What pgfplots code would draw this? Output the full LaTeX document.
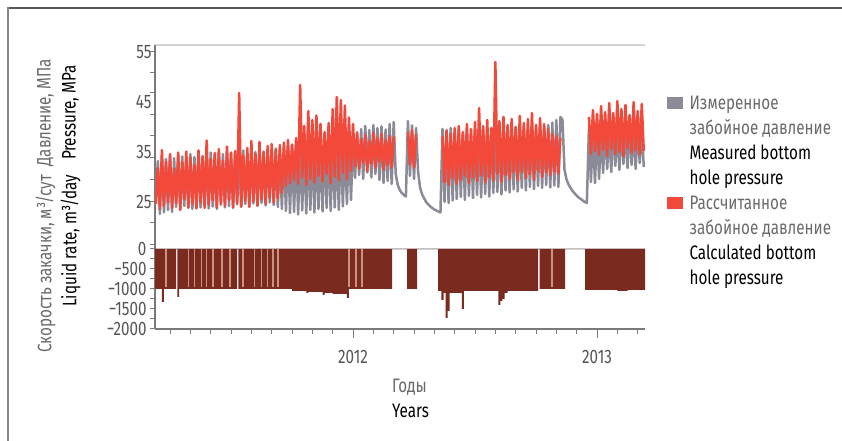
\documentclass[border=0pt]{standalone}
\usepackage{fontspec}
\setmainfont{Fira Sans}[FakeStretch=0.78]
\usepackage{pgfplots}
\usepackage{pgfplotstable}
\pgfplotsset{compat=1.18}
\definecolor{cgray}{HTML}{8B8B98}
\definecolor{cred}{HTML}{F2493B}
\definecolor{cbar}{HTML}{7B2A1F}
\definecolor{cbarl}{HTML}{C99380}
\definecolor{rus}{HTML}{6A6A6A}
\definecolor{tickgray}{HTML}{555555}
\definecolor{axisgray}{HTML}{7A7A7A}
\definecolor{linetop}{HTML}{D3D3D3}
\definecolor{frametop}{HTML}{5A5A55}
\definecolor{frameleft}{HTML}{8A8782}
\newcommand{\fs}{\fontsize{19.5bp}{25bp}\selectfont}

\pgfplotstableread{
m g r
2.3 25.0 24.6
2.4 33.2 31.8
2.5 22.6 23.6
2.6 34.0 35.4
2.7 22.9 24.2
2.8 33.6 33.0
2.9 23.4 25.0
3.0 34.2 34.6
3.1 23.0 23.8
3.2 33.8 31.6
3.3 24.0 24.8
3.4 34.4 34.9
3.5 23.5 23.4
3.6 34.1 33.0
3.7 24.2 25.6
3.8 33.6 35.1
3.9 23.8 23.9
4.0 34.6 34.0
4.1 23.6 24.6
4.2 34.0 32.4
4.3 24.4 23.7
4.4 34.8 35.3
4.5 23.9 24.9
4.6 34.2 34.1
4.7 24.3 23.8
4.8 34.6 37.3
4.9 23.7 24.4
5.0 34.9 33.6
5.1 24.1 25.3
5.2 34.4 34.8
5.3 23.6 23.9
5.4 35.0 35.6
5.5 24.4 24.7
5.6 34.6 33.2
5.7 23.9 24.2
5.8 35.2 36.1
5.9 24.2 25.4
6.0 34.7 34.9
6.1 23.8 23.9
6.2 35.1 35.2
6.3 24.5 24.8
6.4 34.9 46.8
6.5 24.0 24.1
6.6 35.3 34.3
6.7 24.6 25.2
6.8 34.8 35.8
6.9 24.1 24.0
7.0 35.4 37.2
7.1 24.7 25.1
7.2 35.0 34.6
7.3 24.2 24.3
7.4 35.6 37.0
7.5 24.8 25.5
7.6 35.1 35.0
7.7 24.3 24.6
7.8 35.5 36.2
7.9 24.9 25.8
8.0 35.2 36.6
8.1 24.4 24.9
8.2 35.7 35.4
8.3 24.0 25.7
8.4 35.4 36.4
8.5 23.6 26.8
8.6 36.0 36.9
8.7 23.2 28.2
8.8 36.2 37.4
8.9 22.8 28.8
9.0 36.4 36.5
9.1 23.0 29.4
9.2 36.1 37.8
9.3 22.5 28.6
9.4 36.6 48.4
9.5 23.3 29.9
9.6 36.3 40.2
9.7 22.7 28.4
9.8 36.8 43.2
9.9 23.4 29.6
10.0 36.5 41.4
10.1 22.9 28.9
10.2 37.0 42.3
10.3 23.6 30.2
10.4 36.6 40.6
10.5 23.1 29.1
10.6 37.1 39.0
10.7 23.8 30.6
10.8 36.7 40.8
10.9 23.2 28.7
11.0 37.2 43.6
11.1 23.9 30.1
11.2 36.9 46.0
11.3 23.4 29.3
11.4 37.4 45.4
11.5 24.1 30.8
11.6 37.0 44.3
11.7 24.6 29.6
11.8 37.5 41.9
11.9 25.4 31.2
12.0 38.0 40.6
12.1 29.8 32.2
12.2 39.0 38.8
12.3 30.4 31.6
12.4 39.6 37.6
12.5 29.6 32.8
12.6 40.2 38.4
12.7 30.9 31.2
12.8 39.4 37.2
12.9 29.9 32.6
13.0 40.4 38.9
13.1 30.6 31.8
13.2 39.8 37.8
13.3 29.4 33.0
13.4 40.1 38.6
13.5 28.8 31.5
13.6 39.5 37.4
13.7 29.2 32.4
13.8 40.6 38.2
13.9 28.6 31.8
14.0 41.0 38.0
14.1 30.6 nan
14.2 28.4 nan
14.3 27.4 nan
14.4 26.8 nan
14.5 26.4 nan
14.6 26.1 nan
14.7 41.2 39.0
14.8 30.2 32.4
14.9 40.3 39.4
15.0 29.6 31.8
15.1 39.8 38.6
15.2 31.0 nan
15.3 27.8 nan
15.4 26.5 nan
15.5 25.7 nan
15.6 25.0 nan
15.7 24.5 nan
15.8 24.1 nan
15.9 23.8 nan
16.0 23.5 nan
16.1 23.3 nan
16.2 23.1 nan
16.3 22.9 nan
16.4 39.6 38.2
16.5 25.0 29.0
16.6 39.2 39.4
16.7 24.8 28.4
16.8 39.8 38.6
16.9 25.3 29.8
17.0 39.0 39.8
17.1 25.6 28.6
17.2 39.5 40.2
17.3 26.0 29.4
17.4 38.8 39.0
17.5 25.4 30.2
17.6 39.3 40.6
17.7 26.2 28.8
17.8 38.9 39.6
17.9 25.8 29.9
18.0 39.4 41.0
18.1 26.4 29.2
18.2 39.0 43.8
18.3 25.9 30.4
18.4 39.6 40.2
18.5 26.6 28.9
18.6 39.1 41.4
18.7 26.1 30.0
18.8 39.7 39.8
18.9 26.8 29.3
19.0 39.2 53.0
19.1 27.0 30.6
19.2 39.8 41.2
19.3 26.5 29.0
19.4 39.3 42.0
19.5 27.3 30.4
19.6 39.9 40.4
19.7 26.9 29.6
19.8 39.4 41.6
19.9 27.5 30.9
20.0 40.0 40.0
20.1 27.1 29.4
20.2 39.5 42.2
20.3 27.8 31.0
20.4 40.1 40.8
20.5 27.3 29.8
20.6 39.6 41.6
20.7 28.0 30.5
20.8 40.2 42.8
20.9 27.6 29.5
21.0 39.7 40.4
21.1 28.2 31.2
21.2 40.3 41.8
21.3 27.8 30.0
21.4 39.8 40.6
21.5 28.4 31.0
21.6 40.4 39.6
21.7 27.9 30.3
21.8 40.9 38.6
21.9 28.3 31.1
22.0 41.4 38.2
22.1 28.0 30.6
22.2 42.0 37.8
22.3 41.5 nan
22.4 31.5 nan
22.5 29.5 nan
22.6 28.5 nan
22.7 27.8 nan
22.8 27.2 nan
22.9 26.7 nan
23.0 26.3 nan
23.1 25.9 nan
23.2 25.6 nan
23.3 25.3 nan
23.4 25.0 nan
23.5 24.8 nan
23.6 39.6 42.0
23.7 29.0 34.6
23.8 39.0 43.4
23.9 28.8 35.2
24.0 39.8 42.6
24.1 29.6 34.4
24.2 39.2 44.2
24.3 30.8 35.4
24.4 40.0 43.0
24.5 31.6 34.2
24.6 39.4 44.8
24.7 31.0 35.6
24.8 40.2 42.8
24.9 32.2 34.6
25.0 39.6 45.2
25.1 31.4 35.0
25.2 40.4 43.6
25.3 32.6 34.1
25.4 39.8 44.4
25.5 31.8 35.8
25.6 40.2 42.4
25.7 32.4 34.8
25.8 39.5 45.0
25.9 31.6 35.3
26.0 40.1 43.2
26.1 32.8 34.5
26.2 39.7 44.6
26.3 32.0 35.2
}\pdata

\begin{document}
\begin{tikzpicture}
\path[use as bounding box] (0bp,0bp) rectangle (842bp,441bp);
\draw[color=frametop, line width=1.5bp] (8bp,433bp) -- (842bp,433bp);
\draw[color=frameleft, line width=2bp] (8bp,434bp) -- (8bp,0bp);

\begin{axis}[
  at={(155bp,192bp)}, anchor=south west,
  scale only axis, width=490bp, height=204bp,
  xmin=2.26, xmax=26.36, ymin=15.6, ymax=56.4,
  axis x line*=box, axis y line*=left,
  x axis line style={draw=linetop, line width=2.5bp},
  y axis line style={draw=axisgray, line width=1.2bp},
  xtick=\empty,
  ytick={16.4,20.8,25,29.4,33.8,38.2,42.4,46.8,50.8,55},
  yticklabels={},
  extra y ticks={25,35,45,55},
  extra y tick labels={25,35,45,55},
  extra y tick style={major tick length=0pt},
  tick align=outside, major tick length=5bp,
  tick style={draw=axisgray, line width=1bp},
  yticklabel style={font=\fs, text=tickgray},
  unbounded coords=jump,
  ylabel={\textcolor{rus}{Давление, МПа}\\Pressure, MPa},
  ylabel style={at={(rel axis cs:-0.198,0.668)}, anchor=center, align=center, font=\fs},
  legend cell align=left,
  legend style={at={(rel axis cs:1.0449,0.77)}, anchor=north west, draw=none, fill=none,
    inner sep=0pt, row sep=0pt, font=\fs,
    nodes={inner sep=0pt, text height=17.5bp, text depth=7.5bp},
    /tikz/every odd column/.append style={column sep=7bp}},
]
\addplot[cgray, line width=2.5bp, line join=round, forget plot] table[x=m, y=g] {\pdata};
\addplot[cred, line width=2.5bp, line join=round, forget plot] table[x=m, y=r] {\pdata};

\addlegendimage{legend image code/.code={\path (0bp,-7bp) (15bp,7bp); \fill[cgray] (0bp,-3.5bp) rectangle (15bp,7bp);}}
\addlegendentry{\textcolor{rus}{Измеренное}}
\addlegendimage{empty legend}
\addlegendentry{\textcolor{rus}{забойное давление}}
\addlegendimage{empty legend}
\addlegendentry{Measured bottom}
\addlegendimage{empty legend}
\addlegendentry{hole pressure}
\addlegendimage{legend image code/.code={\path (0bp,-7bp) (15bp,7bp); \fill[cred] (0bp,-3.5bp) rectangle (15bp,7bp);}}
\addlegendentry{\textcolor{rus}{Рассчитанное}}
\addlegendimage{empty legend}
\addlegendentry{\textcolor{rus}{забойное давление}}
\addlegendimage{empty legend}
\addlegendentry{Calculated bottom}
\addlegendimage{empty legend}
\addlegendentry{hole pressure}
\end{axis}

\begin{axis}[
  at={(155bp,112bp)}, anchor=south west,
  scale only axis, width=490bp, height=80bp,
  xmin=2.26, xmax=26.36, ymin=-2000, ymax=0,
  axis x line*=bottom, axis y line*=left,
  x axis line style={draw=axisgray, line width=1.5bp},
  y axis line style={draw=axisgray, line width=1.2bp},
  xtick={3,4,...,26}, xticklabels={},
  extra x ticks={12,24}, extra x tick labels={2012,2013},
  extra x tick style={major tick length=9bp},
  ytick={-2000,-1750,-1500,-1250,-1000,-750,-500,-250,0},
  yticklabels={{−2000},{},{−1500},{},{−1000},{},{−500},{},{0}},
  tick align=outside, major tick length=5bp,
  tick style={draw=axisgray, line width=1bp},
  yticklabel style={font=\fs, text=tickgray},
  xticklabel style={font=\fs, text=tickgray, yshift=-9bp},
  ylabel={\textcolor{rus}{Скорость закачки, м³/сут}\\Liquid rate, m³/day},
  ylabel style={at={(rel axis cs:-0.198,0.815)}, anchor=center, align=right, font=\fs},
  xlabel={\textcolor{rus}{Годы}\\Years},
  xlabel style={at={(rel axis cs:0.4837,-0.869)}, anchor=west, align=left, font=\fs, inner sep=0pt},
]
\addplot[ybar interval, fill=cbar, draw=none, forget plot] coordinates {
(2.26,-1000) (2.6,-1325) (2.7,-1000) (3.3,0) (3.36,-1200) (3.45,-1000)
(6.3,0) (6.36,-1000) (9.0,-1050) (9.7,-1100) (9.8,-1075) (10.5,-1150)
(10.6,-1100) (11.0,-1125) (11.7,-1225) (11.8,-1000) (13.92,0) (14.66,-1000)
(15.15,0) (16.18,-1050) (16.35,-1275) (16.45,-1100) (16.55,-1725) (16.65,-1550)
(16.75,-1100) (17.35,-1500) (17.45,-1050) (19.15,-1400) (19.25,-1300) (19.35,-1250)
(19.45,-1100) (19.6,-1050) (21.1,0) (21.18,-1000) (22.43,0) (23.41,-1025)
(25.0,-1050) (25.5,-1025) (26.36,-1025)};
\addplot[ycomb, draw=cbarl, line width=1.6bp, forget plot] coordinates {
(2.8,-960) (3.9,-960) (4.2,-960) (4.55,-960) (4.8,-960) (5.1,-960) (5.55,-960)
(5.95,-960) (6.6,-960) (7.15,-960) (7.5,-960) (7.8,-960) (8.05,-960) (8.3,-960)
(11.8,-960) (12.15,-960) (12.45,-960) (21.8,-960)};
\end{axis}
\end{tikzpicture}
\end{document}
